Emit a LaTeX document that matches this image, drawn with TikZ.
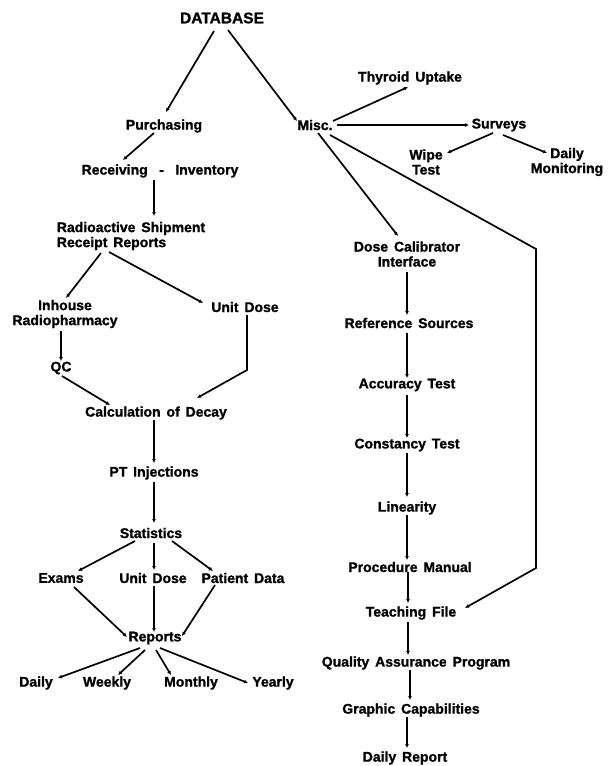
\documentclass[tikz,border=0pt]{standalone}
\usepackage{fontspec}
\setmainfont{Liberation Sans}
\newfontfamily\heavyfont{Liberation Sans}[UprightFont={* Bold}, FakeBold=1.2]
\usetikzlibrary{arrows.meta,calc}
\newcommand\lblfnt{\heavyfont\fontsize{14}{15}\selectfont\spaceskip 0.42em plus 0.1em\relax}
\newcommand\dbfnt{\heavyfont\fontsize{15.5}{17}\selectfont}
\begin{document}
\begin{tikzpicture}[x=1pt,y=-1pt,
  lbl/.style={inner sep=1pt, font=\lblfnt, align=center},
  arr/.style={line width=1.7pt, -{Latex[length=4pt,width=4pt]}}]
\useasboundingbox (0,0) rectangle (609,766);
% left branch
\node[lbl, font=\dbfnt] (db) at (222,18) {DATABASE};
\node[lbl] (pur) at (164,126) {Purchasing};
\node[lbl] (rec) at (160,171) {Receiving\hspace{0.4em} -\hspace{0.4em} Inventory};
\node[lbl, align=left] (rad) at (131,236) {Radioactive Shipment\\Receipt Reports};
\node[lbl] (inh) at (65,314) {Inhouse\\Radiopharmacy};
\node[lbl] (udA) at (245,307) {Unit Dose};
\node[lbl] (qc) at (61,368) {QC};
\node[lbl] (calc) at (156,413) {Calculation of Decay};
\node[lbl] (pt) at (154,473) {PT Injections};
\node[lbl] (stat) at (151,533) {Statistics};
\node[lbl] (ex) at (61,578) {Exams};
\node[lbl] (udB) at (153,578) {Unit Dose};
\node[lbl] (pat) at (243,578) {Patient Data};
\node[lbl] (rep) at (155,638) {Reports};
\node[lbl] (dly) at (36,683) {Daily};
\node[lbl] (wk) at (107,683) {Weekly};
\node[lbl] (mo) at (191,683) {Monthly};
\node[lbl] (yr) at (273,683) {Yearly};
% right branch
\node[lbl] (misc) at (315,125) {Misc.};
\node[lbl] (thy) at (410,78) {Thyroid Uptake};
\node[lbl] (surv) at (499,125) {Surveys};
\node[lbl] (wipe) at (426,162) {Wipe\\Test};
\node[lbl] (dm) at (567,162) {Daily\\Monitoring};
\node[lbl] (dose) at (407,254) {Dose Calibrator\\Interface};
\node[lbl] (ref) at (409,323) {Reference Sources};
\node[lbl] (acc) at (407,385) {Accuracy Test};
\node[lbl] (con) at (407,445) {Constancy Test};
\node[lbl] (lin) at (407,508) {Linearity};
\node[lbl] (proc) at (410,567) {Procedure Manual};
\node[lbl] (teach) at (411,613) {Teaching File};
\node[lbl] (qa) at (416,663) {Quality Assurance Program};
\node[lbl] (gr) at (411,710) {Graphic Capabilities};
\node[lbl] (dr) at (405,758) {Daily Report};
\coordinate (udbend) at (247,370);
\coordinate (tfA) at (536,249);
\coordinate (tfB) at (536,568);
% left connectors
\draw[arr] ($(db)+(-8,13)$) -- ($(pur)+(2,-14)$);
\draw[arr] ($(db)+(6,12)$) -- ($(misc)+(-18,-4)$);
\draw[arr] ($(pur)+(-10,7)$) -- ($(rec)+(-37,-11)$);
\draw[arr] ($(rec)+(-6,9)$) -- ($(rad)+(23,-20)$);
\draw[arr] ($(rad)+(-30,17)$) -- ($(inh)+(1,-16)$);
\draw[arr] ($(rad)+(-22,16)$) -- ($(udA)+(-42,-4)$);
\draw[arr] ($(inh)+(-4,17)$) -- ($(qc)+(0,-7)$);
\draw[arr] ($(qc)+(1,8)$) -- ($(calc)+(-46,-8)$);
\draw[arr] ($(udA)+(2,8)$) -- (udbend) -- ($(calc)+(41,-15)$);
\draw[arr] ($(calc)+(-2,7)$) -- ($(pt)+(0,-10)$);
\draw[arr] ($(pt)+(0,9)$) -- ($(stat)+(3,-10)$);
\draw[arr] ($(stat)+(-16,8)$) -- ($(ex)+(17,-7)$);
\draw[arr] ($(stat)+(3,10)$) -- ($(udB)+(1,-8)$);
\draw[arr] ($(stat)+(21,8)$) -- ($(pat)+(-30,-7)$);
\draw[arr] ($(ex)+(13,9)$) -- ($(rep)+(-28,-1)$);
\draw[arr] ($(udB)+(1,8)$) -- ($(rep)+(-1,-6)$);
\draw[arr] ($(pat)+(-28,7)$) -- ($(rep)+(27,-2)$);
\draw[arr] ($(rep)+(-15,10)$) -- ($(dly)+(22,-5)$);
\draw[arr] ($(rep)+(-10,12)$) -- ($(wk)+(11,-8)$);
\draw[arr] ($(rep)+(1,12)$) -- ($(mo)+(-20,-8)$);
\draw[arr] ($(rep)+(5,10)$) -- ($(yr)+(-25,0)$);
% right connectors
\draw[arr] ($(misc)+(18,-4)$) -- ($(thy)+(-2,9)$);
\draw[arr] ($(misc)+(22,0)$) -- ($(surv)+(-30,0)$);
\draw[arr] ($(surv)+(-6,8)$) -- ($(wipe)+(21,-9)$);
\draw[arr] ($(surv)+(4,10)$) -- ($(dm)+(-20,-9)$);
\draw[arr] ($(misc)+(3,8)$) -- ($(dose)+(-9,-18)$);
\draw[arr] ($(misc)+(15,10)$) -- (tfA) -- (tfB) -- ($(teach)+(54,-5)$);
\draw[arr] ($(dose)+(0,18)$) -- ($(ref)+(-2,-8)$);
\draw[arr] ($(ref)+(-2,10)$) -- ($(acc)+(0,-7)$);
\draw[arr] ($(acc)+(0,10)$) -- ($(con)+(0,-7)$);
\draw[arr] ($(con)+(0,8)$) -- ($(lin)+(0,-11)$);
\draw[arr] ($(lin)+(0,7)$) -- ($(proc)+(-3,-7)$);
\draw[arr] ($(proc)+(-2,5)$) -- ($(teach)+(-3,-10)$);
\draw[arr] ($(teach)+(-3,9)$) -- ($(qa)+(-8,-8)$);
\draw[arr] ($(qa)+(-6,7)$) -- ($(gr)+(-1,-10)$);
\draw[arr] ($(gr)+(-4,7)$) -- ($(dr)+(2,-10)$);
\end{tikzpicture}
\end{document}
